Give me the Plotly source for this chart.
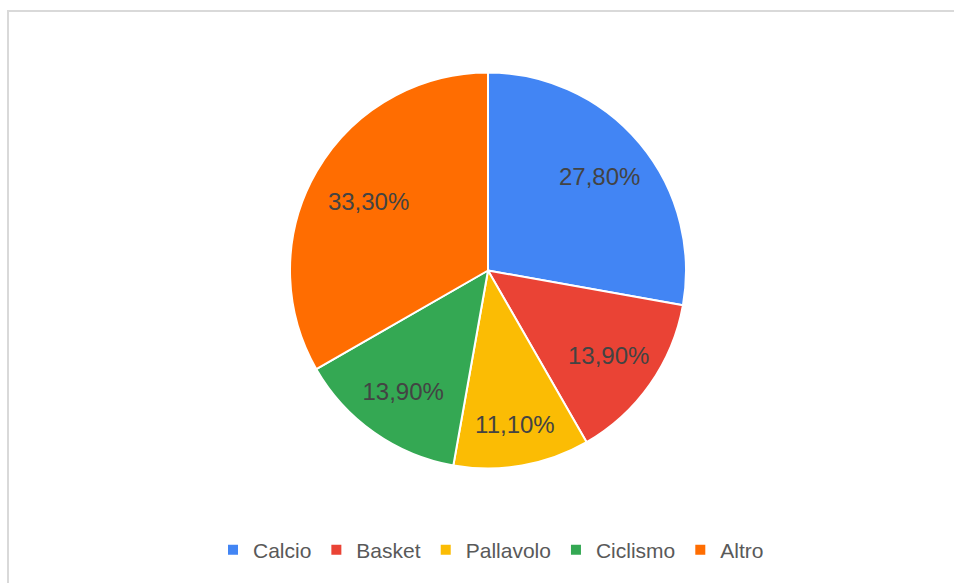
import plotly.graph_objects as go

labels = ["Calcio", "Basket", "Pallavolo", "Ciclismo", "Altro"]
values = [27.8, 13.9, 11.1, 13.9, 33.3]
colors = ["#4285F4", "#EA4335", "#FBBC04", "#34A853", "#FF6D01"]

W, H = 954, 583
FONT = "Liberation Sans, Arial, sans-serif"
CX, CY, R = 488, 270.5, 198     # pie centre / radius in px
# label rings (scale of an invisible pie used only to position the labels)
RINGS = [
    (1.3, ["inside", "none", "none", "none", "inside"]),
    (1.06, ["none", "inside", "inside", "inside", "none"]),
]

fig = go.Figure()
fig.add_trace(go.Pie(
    labels=labels,
    values=values,
    sort=False,
    direction="clockwise",
    rotation=0,
    marker=dict(colors=colors, line=dict(color="white", width=2)),
    textinfo="none",
    domain=dict(x=[(CX - R) / W, (CX + R) / W], y=[1 - (CY + R) / H, 1 - (CY - R) / H]),
    hoverinfo="label+percent",
))
for scale, positions in RINGS:
    fig.add_trace(go.Pie(
        labels=labels,
        values=values,
        sort=False,
        direction="clockwise",
        rotation=0,
        showlegend=False,
        marker=dict(colors=["rgba(0,0,0,0)"] * len(labels), line=dict(width=0)),
        texttemplate="%{percent:.2%}",
        textposition=positions,
        insidetextorientation="horizontal",
        textfont=dict(family=FONT, size=24, color="#434343"),
        domain=dict(x=[(CX - R * scale) / W, (CX + R * scale) / W],
                    y=[1 - (CY + R * scale) / H, 1 - (CY - R * scale) / H]),
        hoverinfo="skip",
    ))

fig.update_layout(
    width=W, height=H,
    margin=dict(l=0, r=0, t=0, b=0),
    paper_bgcolor="white",
    plot_bgcolor="white",
    separators=",.",
    showlegend=True,
    uniformtext=dict(minsize=24, mode="show"),
    legend=dict(
        orientation="h",
        x=491 / W, xanchor="center",
        y=1 - 550 / H, yanchor="middle",
        font=dict(family=FONT, size=21, color="#595959"),
        itemwidth=30,
        traceorder="normal",
    ),
    shapes=[
        dict(type="line", xref="paper", yref="paper",
             x0=7 / W, x1=1, y0=1 - 11 / H, y1=1 - 11 / H,
             line=dict(color="#d9d9d9", width=2)),
        dict(type="line", xref="paper", yref="paper",
             x0=8 / W, x1=8 / W, y0=1 - 10 / H, y1=0,
             line=dict(color="#d9d9d9", width=2)),
    ],
)

fig.write_html("out.html", config={"displayModeBar": False},
               post_script="document.body.style.margin='0';")
